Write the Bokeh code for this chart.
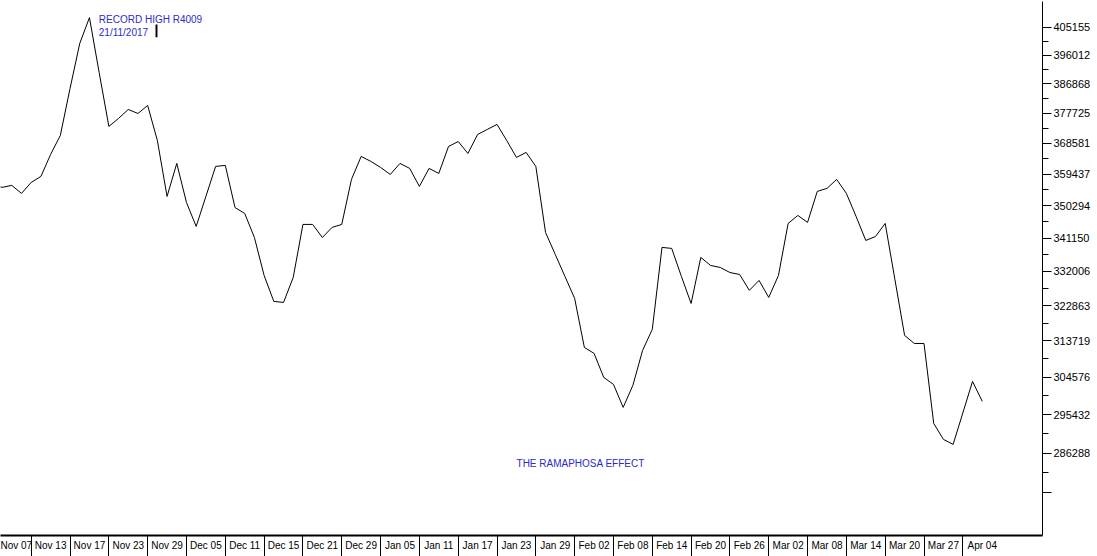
from bokeh.plotting import figure
from bokeh.models import Range1d, FixedTicker, Label, BoxAnnotation
from bokeh.embed import file_html
from bokeh.resources import INLINE

# daily closes (trading-day index 0 = Nov 07)
close = [356418, 355547, 356128, 353805, 356998, 358740, 365237, 370928, 385406, 399831,
         408337, 390481, 373671, 376110, 378875, 377634, 380119, 369404, 352934, 362574,
         351192, 344415, 352934, 361687, 361982, 349760, 348072, 341321, 330913, 323981,
         323715, 330380, 344977, 344977, 341321, 344134, 344977, 357869, 364646, 363166,
         361391, 359321, 362574, 361095, 355837, 361095, 359615, 367605, 369099, 365533,
         371233, 372757, 374281, 369404, 364350, 365829, 361687, 342727, 336647, 330646,
         324781, 312056, 310545, 304503, 302791, 297168, 302547, 311301, 316680, 338569,
         338294, 330646, 323448, 335823, 333626, 333077, 331713, 331180, 326914, 329580,
         325048, 330913, 345259, 347509, 345540, 354386, 355257, 357869, 353805, 347228,
         340491, 341602, 345259, 329847, 315121, 313064, 313064, 293318, 289518, 288331,
         295823, 303525, 298635]

label_dates = ["Nov 07", "Nov 13", "Nov 17", "Nov 23", "Nov 29", "Dec 05", "Dec 11",
               "Dec 15", "Dec 21", "Dec 29", "Jan 05", "Jan 11", "Jan 17", "Jan 23",
               "Jan 29", "Feb 02", "Feb 08", "Feb 14", "Feb 20", "Feb 26", "Mar 02",
               "Mar 08", "Mar 14", "Mar 20", "Mar 27", "Apr 04"]
label_day = [0, 4, 8, 12, 16, 20, 24, 28, 32, 36, 40, 44, 48, 52, 56, 60, 64, 68, 72,
             76, 80, 84, 88, 92, 96, 100]

y_ticks = [405155, 396012, 386868, 377725, 368581, 359437, 350294, 341150, 332006,
           322863, 313719, 304576, 295432, 286288, 277145]
y_tick_labels = ["405155", "396012", "386868", "377725", "368581", "359437", "350294",
                 "341150", "332006", "322863", "313719", "304576", "295432", "286288", ""]

days = list(range(len(close)))

BLUE = "#2c2cc8"
FONT = "Liberation Sans"

p = figure(width=1097, height=556, output_backend="svg", toolbar_location=None,
           x_range=Range1d(0.835, 108.21), y_range=Range1d(267693, 413734),
           y_axis_type="log", y_axis_location="right",
           min_border_left=0, min_border_right=55, min_border_top=1, min_border_bottom=21,
           background_fill_color="white", border_fill_color="white")
p.outline_line_color = None
p.grid.visible = False

p.line(days, close, line_color="black", line_width=1)

# bottom date axis (boxes)
xa = p.xaxis[0]
centers = [d + 2 for d in label_day]
xa.ticker = FixedTicker(ticks=centers, minor_ticks=label_day)
xa.major_label_overrides = {c: t for c, t in zip(centers, label_dates)}
xa.major_tick_in = 0
xa.major_tick_out = 0
xa.major_tick_line_color = None
xa.minor_tick_in = 0
xa.minor_tick_out = 21
xa.minor_tick_line_color = "black"
xa.minor_tick_line_width = 1
xa.axis_line_color = "black"
xa.axis_line_width = 2
xa.major_label_text_font = FONT
xa.major_label_text_font_size = "10px"
xa.major_label_text_color = "black"
xa.major_label_standoff = -17

# right price axis
ya = p.yaxis[0]
minor = [(a + b) / 2 for a, b in zip(y_ticks[:-1], y_ticks[1:])]
ya.ticker = FixedTicker(ticks=y_ticks, minor_ticks=minor)
ya.major_label_overrides = {v: l for v, l in zip(y_ticks, y_tick_labels)}
ya.major_tick_in = 0
ya.major_tick_out = 9
ya.minor_tick_in = 0
ya.minor_tick_out = 6
ya.major_tick_line_color = "black"
ya.minor_tick_line_color = "black"
ya.axis_line_color = "black"
ya.axis_line_width = 1
ya.major_label_text_font = FONT
ya.major_label_text_font_size = "11px"
ya.major_label_text_color = "black"
ya.major_label_standoff = 2

# annotations
p.add_layout(Label(x=10.965, y=407707, text="RECORD HIGH R4009", text_font=FONT,
                   text_font_size="10px", text_color=BLUE, text_baseline="alphabetic"))
p.add_layout(Label(x=10.965, y=403310, text="21/11/2017", text_font=FONT,
                   text_font_size="10px", text_color=BLUE, text_baseline="alphabetic"))
p.add_layout(BoxAnnotation(left=16.81, right=17.01, top=406048, bottom=401865,
                           fill_color="black", fill_alpha=1, line_color=None))
p.add_layout(Label(x=54.01, y=283968, text="THE RAMAPHOSA EFFECT", text_font=FONT,
                   text_font_size="10px", text_color=BLUE, text_baseline="alphabetic"))

open("out.html", "w").write(file_html(p, INLINE))
